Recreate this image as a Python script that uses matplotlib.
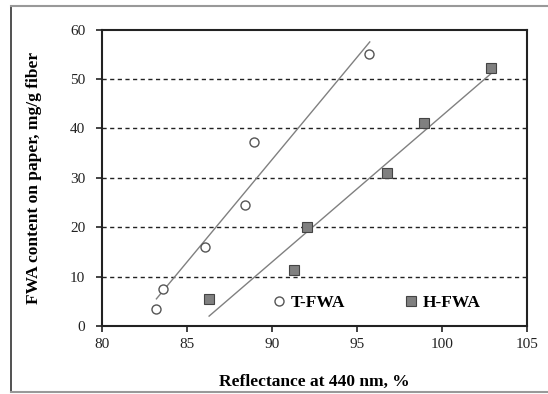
import numpy as np
import matplotlib.pyplot as plt

# T-FWA data (reflectance %, FWA content mg/g)
t_refl = [83.2, 83.6, 86.07, 88.39, 88.96, 95.7]
t_fwa = [3.4, 7.55, 16.0, 24.5, 37.2, 55.0]

# H-FWA data
h_refl = [86.3, 91.27, 92.05, 96.76, 98.96, 102.86]
h_fwa = [5.5, 11.3, 20.0, 30.95, 41.1, 52.3]

x_ticks = [80, 85, 90, 95, 100, 105]
y_ticks = [0, 10, 20, 30, 40, 50, 60]

plt.rcParams['font.family'] = ['Liberation Serif', 'DejaVu Serif']

fig = plt.figure(figsize=(5.48, 3.94), dpi=100)
ax = fig.add_axes([102 / 548, 1 - 326 / 394, 425 / 548, 296.5 / 394])

# outer frame around the figure
fig.add_artist(plt.Line2D([11 / 548, 11 / 548], [2 / 394, 1 - 6 / 394],
                          transform=fig.transFigure, color='#333333', lw=1.2))
fig.add_artist(plt.Line2D([11 / 548, 1], [1 - 6 / 394, 1 - 6 / 394],
                          transform=fig.transFigure, color='#999999', lw=1.5))
fig.add_artist(plt.Line2D([11 / 548, 1], [2 / 394, 2 / 394],
                          transform=fig.transFigure, color='#999999', lw=1.5))

# horizontal dashed grid
for yv in y_ticks[1:-1]:
    ax.axhline(yv, color='#222222', lw=1.0, ls=(0, (3, 2.5)), zorder=1)

# linear fits
for xs, ys in [(t_refl, t_fwa), (h_refl, h_fwa)]:
    k, b = np.polyfit(xs, ys, 1)
    xx = np.array([min(xs), max(xs) + 0.05])
    ax.plot(xx, k * xx + b, color='#808080', lw=1.0, zorder=2)

ax.plot(t_refl, t_fwa, 'o', ms=6.5, mfc='white', mec='#555555', mew=1.0,
        ls='none', label='T-FWA', zorder=3)
ax.plot(h_refl, h_fwa, 's', ms=7, mfc='#808080', mec='#444444', mew=0.8,
        ls='none', label='H-FWA', zorder=3)

ax.set_xlim(80, 105)
ax.set_ylim(0, 60)
ax.set_xticks(x_ticks)
ax.set_yticks(y_ticks)
ax.tick_params(axis='both', direction='out', length=4, width=1.2,
               labelsize=11, colors='#222222')
ax.tick_params(axis='x', pad=5)
ax.tick_params(axis='y', pad=8)
ax.tick_params(top=False, right=False)
for s in ax.spines.values():
    s.set_linewidth(1.5)
    s.set_color('#222222')

ax.set_xlabel('Reflectance at 440 nm, %', fontsize=12.5, fontweight='bold',
              labelpad=16)
ax.set_ylabel('FWA content on paper, mg/g fiber', fontsize=12.5,
              fontweight='bold', labelpad=20)

leg = ax.legend(loc='lower left', bbox_to_anchor=(0.405, 0.05), ncol=2,
                frameon=False, prop={'weight': 'bold', 'size': 12.5},
                handletextpad=0.35, columnspacing=3.5, handlelength=0.6,
                borderpad=0, borderaxespad=0)

fig.savefig('out.png', dpi=100)
